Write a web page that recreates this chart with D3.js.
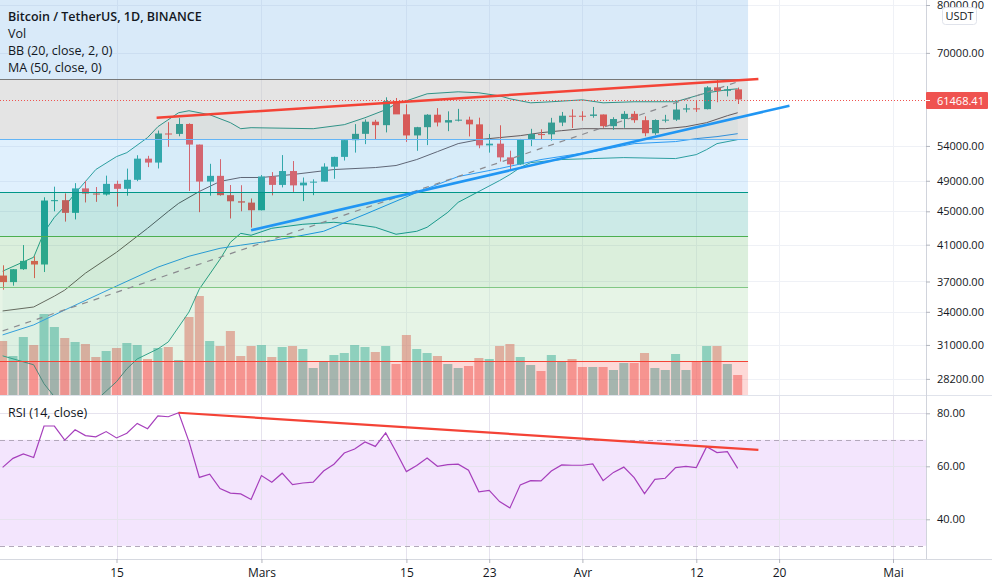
<!DOCTYPE html>
<html>
<head>
<meta charset="utf-8">
<title>BTCUSDT 1D</title>
<script src="https://cdn.jsdelivr.net/npm/d3@7"></script>
<style>
  html, body { margin: 0; padding: 0; background: #fff; }
  svg { display: block; }
  text { font-family: "Open Sans", "Noto Sans", sans-serif; fill: #131722; }
</style>
</head>
<body>
<div id="chart"></div>
<script>
// candles, one per day from 4 Feb to 16 Apr
var opens = [37618,36936,38289,39181,38795,46374,46420,44807,47969,47288,47153,48580,47911,49133,52117,51552,55906,55841,57412,54204,48891,49676,47073,46276,46103,
  45134,49595,48436,50349,48374,48746,48882,50959,52376,54874,55851,57773,57221,61188,58976,55605,56900,58912,57641,58030,58100,57351,54083,54340,52303,51293,55025,55817,55777,57635,58746,
  58739,58720,58950,57059,58206,59058,58020,55947,58048,58102,59769,59964,59834,63588,62971,63229];
var highs = [38708,38310,40955,39700,46794,48200,47310,48678,48985,48150,49707,49010,50689,52618,52530,56368,57700,58352,57508,54204,51374,52041,48424,48394,46638,
  49790,50200,52640,51773,49448,49200,51450,52402,54895,57387,58150,58081,61844,61724,60633,56950,58999,60000,59468,59880,58589,58430,55830,57200,53287,55073,56640,56559,58400,59368,59800,
  59490,60200,58950,58500,59500,59500,58650,58153,58894,61300,60670,61199,63800,64900,63800,63550];
var lows = [36161,36570,38215,37351,37988,45000,43727,43994,46125,46202,47014,45600,47003,48947,50901,50710,53863,55477,47622,44892,47003,47000,44106,45000,43000,
  45115,47047,48100,47500,46300,47070,48882,49274,51845,53005,54272,54962,56078,59111,54600,53271,54123,57023,56270,57820,55450,53650,53000,51700,50427,51214,53966,54897,54800,57071,56769,
  57935,58427,56800,56478,56800,57600,55473,55700,57654,57900,59300,59369,59791,61000,62000,60700];
var closes = [36936,38290,39186,38795,46374,46420,44807,47969,47287,47153,48577,47911,49133,52119,51552,55906,55841,57408,54204,48891,49676,47073,46276,46106,45135,
  49587,48440,50349,48374,48751,48882,50971,52375,54884,55851,57773,57221,61188,58968,55605,56900,58912,57648,58030,58102,57351,54083,54340,52303,51293,55025,55817,55777,57635,58746,58740,
  58720,58950,57059,58206,59058,58020,55947,58048,58102,59769,59964,59834,63588,62971,63229,61468];
// volume, thousands
var volumes = [162,117,174,150,243,204,171,159,153,114,132,141,156,150,108,141,144,105,234,297,162,147,192,117,147,
  150,114,144,147,138,81,102,120,126,150,144,129,147,93,180,138,126,117,93,81,87,111,108,147,153,114,90,72,120,102,108,
  84,84,84,75,96,96,126,81,75,123,75,102,147,147,93,60];
var rsiValues = [59.6,63.0,64.7,63.3,75.2,75.2,69.9,73.8,71.6,71.1,73.1,70.7,72.5,76.2,74.2,79.0,78.7,80.2,69.3,55.8,57.0,51.6,49.9,49.6,47.5,
  56.5,54.0,57.4,53.1,53.7,54.0,58.2,60.8,65.0,66.5,69.2,67.5,72.6,65.5,58.0,60.3,63.1,60.0,60.6,60.8,58.5,50.4,50.9,46.7,44.3,53.0,54.6,54.5,58.2,60.5,60.4,
  60.4,60.9,54.6,57.7,59.7,55.7,49.7,55.1,55.5,59.5,60.0,59.5,67.4,65.2,65.5,59.2];

// indicator lines, read at a subset of the candles (index into the day list)
var basisDays = [0,3,5,6,8,11,14,16,17,19,21,23,25,28,32,36,38,40,42,44,46,48,50,52,54,56,60,64,66,68,70,71];
var basisValues = [34080,34460,35520,36120,37870,40140,42920,44990,46010,47560,48910,49450,49450,49860,50560,50840,51130,51990,53150,54350,54960,55270,55570,56030,56350,56660,56660,56660,56980,57620,58750,59240];
var upperDays = [0,3,4,5,6,7,9,11,12,14,15,17,18,20,22,23,24,30,33,35,37,38,39,41,44,46,48,49,51,53,56,58,61,65,66,68,70,71];
var upperValues = [38080,39590,42440,44250,45620,47300,50560,52420,53000,55270,56980,59240,59570,58910,57620,56660,56820,56660,57300,58420,59740,60750,61240,62450,62800,62620,62100,61590,60900,61080,61410,60900,61080,61080,61590,62620,63160,63330];
var lowerDays = [0,3,4,5,6,7,8,9,11,12,13,15,16,18,19,21,22,23,24,26,29,32,34,36,38,40,41,43,44,46,48,49,50,51,54,57,60,65,67,68,69,71];
var lowerValues = [30070,29330,27820,26830,26100,25740,25810,26540,27980,29000,29810,30660,31260,33980,36220,39370,41270,42320,42090,42920,43400,43640,43400,43040,42210,42560,43040,44870,46140,47560,49030,49860,50840,51540,51990,52130,52270,52130,52710,53450,54350,54960];
var maDays = [0,3,6,11,15,18,21,23,25,28,31,35,40,44,48,52,57,61,65,67,69,71];
var maValues = [31880,32780,34170,36530,38510,39700,40590,40940,41280,41860,42560,44620,47430,49580,50700,51990,53150,54350,54660,55110,55420,55880];

// fib retracement bands, top to bottom
var fibPrices = [81120,65100,55050,47430,41970,36420,29650,26960];
var fibColors = ['#3f98e0','#787878','#64b5f6','#009688','#4caf50','#81c784','#f44336'];

// trend lines: [day index, value]
var redTrend = [[14.9,58420],[73,65100]];
var blueTrend = [[24,42680],[76,60410]];
var dashTrend = [[0,32240],[71,64580]];
var rsiTrend = [[17,80.2],[73,66.2]];

var priceTicks = [80000,70000,54000,49000,45000,41000,37000,34000,31000,28200];
var rsiTicks = [80,60,40];
var rsiBands = [70,30];
var timeTicks = ['2021-02-15','2021-03-01','2021-03-15','2021-03-23','2021-04-01','2021-04-12','2021-04-20','2021-05-01'];
var timeLabels = ['15','Mars','15','23','Avr','12','20','Mai'];
var legendLines = ['Bitcoin / TetherUS, 1D, BINANCE','Vol','BB (20, close, 2, 0)','MA (50, close, 0)'];
var lastPrice = 61468.41;

var width = 992, height = 587,
    axisX = 926, mainBottom = 395, rsiBottom = 559;

var parseDay = d3.utcParse('%Y-%m-%d');
var days = d3.utcDay.range(parseDay('2021-02-04'), parseDay('2021-04-17'));
var tickDates = timeTicks.map(parseDay);

var x = d3.scaleUtc().domain([parseDay('2021-02-15'), parseDay('2021-05-01')]).range([116.5, 893]);
var dayWidth = x(parseDay('2021-02-16')) - x(parseDay('2021-02-15'));
// day index to pixel, trend lines end between candles or past the last one
var xIdx = function (i) { return x(d3.utcHour.offset(days[0], i * 24)); };

var y = d3.scaleLog().domain([80000, 26960]).range([5, mainBottom]);
var yVol = d3.scaleLinear().domain([0, 300]).range([mainBottom, 295]);
var yRsi = d3.scaleLinear().domain([80, 40]).range([413.3, 519.3]);
var crisp = function (v) { return Math.round(v) + 0.5; };

var svg = d3.select('#chart').append('svg').attr('width', width).attr('height', height);
var defs = svg.append('defs');
defs.append('clipPath').attr('id', 'clipMain').append('rect').attr('width', axisX).attr('height', mainBottom);
defs.append('clipPath').attr('id', 'clipRsi').append('rect').attr('y', mainBottom).attr('width', axisX).attr('height', rsiBottom - mainBottom);

// grid
var grid = svg.append('g').attr('stroke', '#eff1f6').attr('stroke-width', 1);
grid.selectAll('.v').data(tickDates).enter().append('line')
    .attr('x1', function (d) { return crisp(x(d)); })
    .attr('x2', function (d) { return crisp(x(d)); })
    .attr('y1', 0).attr('y2', rsiBottom);
grid.selectAll('.h').data(priceTicks).enter().append('line')
    .attr('x1', 0).attr('x2', axisX)
    .attr('y1', function (d) { return crisp(y(d)); })
    .attr('y2', function (d) { return crisp(y(d)); });

// RSI pane
var rsiPane = svg.append('g').attr('clip-path', 'url(#clipRsi)');
rsiPane.append('rect').attr('x', 0).attr('width', axisX)
    .attr('y', yRsi(rsiBands[0])).attr('height', yRsi(rsiBands[1]) - yRsi(rsiBands[0]))
    .attr('fill', '#f3e5fd');
rsiPane.selectAll('.grid').data(rsiTicks).enter().append('line')
    .attr('x1', 0).attr('x2', axisX)
    .attr('y1', function (d) { return crisp(yRsi(d)); })
    .attr('y2', function (d) { return crisp(yRsi(d)); })
    .attr('stroke', '#e6e3ee');
rsiPane.selectAll('.vr').data(tickDates).enter().append('line')
    .attr('x1', function (d) { return crisp(x(d)); })
    .attr('x2', function (d) { return crisp(x(d)); })
    .attr('y1', mainBottom).attr('y2', rsiBottom).attr('stroke', '#e6e3ee');
rsiPane.selectAll('.band').data(rsiBands).enter().append('line')
    .attr('x1', 0).attr('x2', axisX)
    .attr('y1', function (d) { return crisp(yRsi(d)); })
    .attr('y2', function (d) { return crisp(yRsi(d)); })
    .attr('stroke', '#b3a8bb').attr('stroke-dasharray', '5,4');
rsiPane.append('path').datum(rsiValues)
    .attr('d', d3.line().x(function (d, i) { return x(days[i]); }).y(function (d) { return yRsi(d); }))
    .attr('fill', 'none').attr('stroke', '#a63fbc').attr('stroke-width', 1.2);

var main = svg.append('g').attr('clip-path', 'url(#clipMain)');

// volume
main.selectAll('.vol').data(volumes).enter().append('rect')
    .attr('x', function (d, i) { return x(days[i]) - (dayWidth - 1.3) / 2; })
    .attr('width', dayWidth - 1.3)
    .attr('y', function (d) { return yVol(d); })
    .attr('height', function (d) { return mainBottom - yVol(d); })
    .attr('fill', function (d, i) { return closes[i] >= opens[i] ? '#26a69a' : '#ef5350'; })
    .attr('fill-opacity', 0.5);

// bollinger + MA
function linePoints(dayIdx, values) {
    return dayIdx.map(function (d, i) { return [x(days[d]), y(values[i])]; });
}
var upperPts = linePoints(upperDays, upperValues),
    lowerPts = linePoints(lowerDays, lowerValues);
main.append('path')
    .attr('d', d3.line()(upperPts.concat(lowerPts.slice().reverse())) + 'Z')
    .attr('fill', '#26a69a').attr('fill-opacity', 0.05);
var indicators = [
    { pts: upperPts, color: '#1f9a8c' },
    { pts: lowerPts, color: '#1f9a8c' },
    { pts: linePoints(basisDays, basisValues), color: '#5f5458' },
    { pts: linePoints(maDays, maValues), color: '#2196f3' }
];
main.selectAll('.ind').data(indicators).enter().append('path')
    .attr('d', function (d) { return d3.line()(d.pts); })
    .attr('fill', 'none')
    .attr('stroke', function (d) { return d.color; })
    .attr('stroke-width', 1);

// candles
var candles = main.selectAll('.candle').data(days).enter().append('g');
candles.append('line')
    .attr('x1', function (d) { return crisp(x(d)); })
    .attr('x2', function (d) { return crisp(x(d)); })
    .attr('y1', function (d, i) { return y(highs[i]); })
    .attr('y2', function (d, i) { return y(lows[i]); })
    .attr('stroke', function (d, i) { return closes[i] >= opens[i] ? '#26a69a' : '#ef5350'; });
candles.append('rect')
    .attr('x', function (d) { return crisp(x(d)) - 3.5; })
    .attr('width', 7)
    .attr('y', function (d, i) { return y(Math.max(opens[i], closes[i])); })
    .attr('height', function (d, i) { return Math.max(1, Math.abs(y(opens[i]) - y(closes[i]))); })
    .attr('fill', function (d, i) { return closes[i] >= opens[i] ? '#26a69a' : '#ef5350'; });

// fib bands go over the candles
var fibRight = xIdx(72);
main.selectAll('.fib').data(fibColors).enter().append('rect')
    .attr('x', 0).attr('width', fibRight)
    .attr('y', function (d, i) { return Math.round(y(fibPrices[i])); })
    .attr('height', function (d, i) { return Math.round(y(fibPrices[i + 1])) - Math.round(y(fibPrices[i])); })
    .attr('fill', function (d) { return d; })
    .attr('fill-opacity', 0.2);
main.selectAll('.fibLine').data(fibPrices.slice(1, -1)).enter().append('line')
    .attr('x1', 0).attr('x2', fibRight)
    .attr('y1', function (d) { return crisp(y(d)); })
    .attr('y2', function (d) { return crisp(y(d)); })
    .attr('stroke', function (d, i) { return fibColors[i + 1]; })
    .attr('stroke-width', 1);

// last price line
var lastY = Math.ceil(y(lastPrice));
main.append('line')
    .attr('x1', 0).attr('x2', axisX)
    .attr('y1', lastY + 0.5).attr('y2', lastY + 0.5)
    .attr('stroke', '#ef5350').attr('stroke-dasharray', '1,2');

// trend lines
function trendPath(pts, scale) {
    return d3.line()(pts.map(function (p) { return [xIdx(p[0]), scale(p[1])]; }));
}
main.append('path').attr('d', trendPath(dashTrend, y))
    .attr('fill', 'none').attr('stroke', '#8a8a8f').attr('stroke-width', 1.2).attr('stroke-dasharray', '6,6');
main.append('path').attr('d', trendPath(redTrend, y))
    .attr('fill', 'none').attr('stroke', '#f44336').attr('stroke-width', 2.5);
main.append('path').attr('d', trendPath(blueTrend, y))
    .attr('fill', 'none').attr('stroke', '#2196f3').attr('stroke-width', 2.5);
svg.append('path').attr('d', trendPath(rsiTrend, yRsi))
    .attr('fill', 'none').attr('stroke', '#f44336').attr('stroke-width', 2.2);

// separators
svg.append('line').attr('x1', 0).attr('x2', width).attr('y1', mainBottom + 0.5).attr('y2', mainBottom + 0.5).attr('stroke', '#e0e3eb');
svg.append('line').attr('x1', 0).attr('x2', width).attr('y1', rsiBottom + 0.5).attr('y2', rsiBottom + 0.5).attr('stroke', '#d6d9e0');

// axes
var priceAxis = svg.append('g').attr('transform', 'translate(' + axisX + ',0)')
    .call(d3.axisRight(y).tickValues(priceTicks).tickSize(4).tickPadding(7).tickFormat(function (d) { return d.toFixed(2); }));
var rsiAxis = svg.append('g').attr('transform', 'translate(' + axisX + ',0)')
    .call(d3.axisRight(yRsi).tickValues(rsiTicks).tickSize(4).tickPadding(7).tickFormat(function (d) { return d.toFixed(2); }));
var timeAxis = svg.append('g').attr('transform', 'translate(0,' + rsiBottom + ')')
    .call(d3.axisBottom(x).tickValues(tickDates).tickSize(4).tickPadding(5).tickFormat(function (d, i) { return timeLabels[i]; }));
[priceAxis, rsiAxis].forEach(function (a) {
    a.selectAll('text').style('font-size', '11px').style('font-family', '"Open Sans", sans-serif');
});
timeAxis.selectAll('text').style('font-size', '12px').style('font-family', '"Open Sans", sans-serif');
[priceAxis, rsiAxis, timeAxis].forEach(function (a) {
    a.selectAll('line').attr('stroke', '#b2b5be');
});
priceAxis.select('.domain').attr('stroke', '#d1d4dc').attr('d', 'M0.5,0V' + rsiBottom);
rsiAxis.select('.domain').remove();
timeAxis.select('.domain').remove();

// last price label
svg.append('rect').attr('x', axisX).attr('y', lastY - 8).attr('width', 62).attr('height', 17).attr('rx', 1).attr('fill', '#ef5350');
svg.append('line').attr('x1', axisX).attr('x2', axisX + 4).attr('y1', lastY + 0.5).attr('y2', lastY + 0.5).attr('stroke', '#fff');
svg.append('text').attr('x', axisX + 11).attr('y', lastY + 4.5).style('fill', '#fff').style('font-size', '11px').text(lastPrice.toFixed(2));

// currency button
svg.append('rect').attr('x', 942.5).attr('y', 7.5).attr('width', 34).attr('height', 17).attr('rx', 3).attr('fill', '#fff').attr('stroke', '#e0e3eb');
svg.append('text').attr('x', 959.5).attr('y', 20).attr('text-anchor', 'middle').style('font-size', '11px').text('USDT');

// legend
svg.selectAll('.legend').data(legendLines).enter().append('text')
    .attr('x', 8)
    .attr('y', function (d, i) { return 21 + i * 17; })
    .style('font-size', '12.5px')
    .style('font-weight', function (d, i) { return i === 0 ? 600 : 400; })
    .text(function (d) { return d; });
svg.append('text').attr('x', 8).attr('y', 417).style('font-size', '12.5px').text('RSI (14, close)');
</script>
</body>
</html>
